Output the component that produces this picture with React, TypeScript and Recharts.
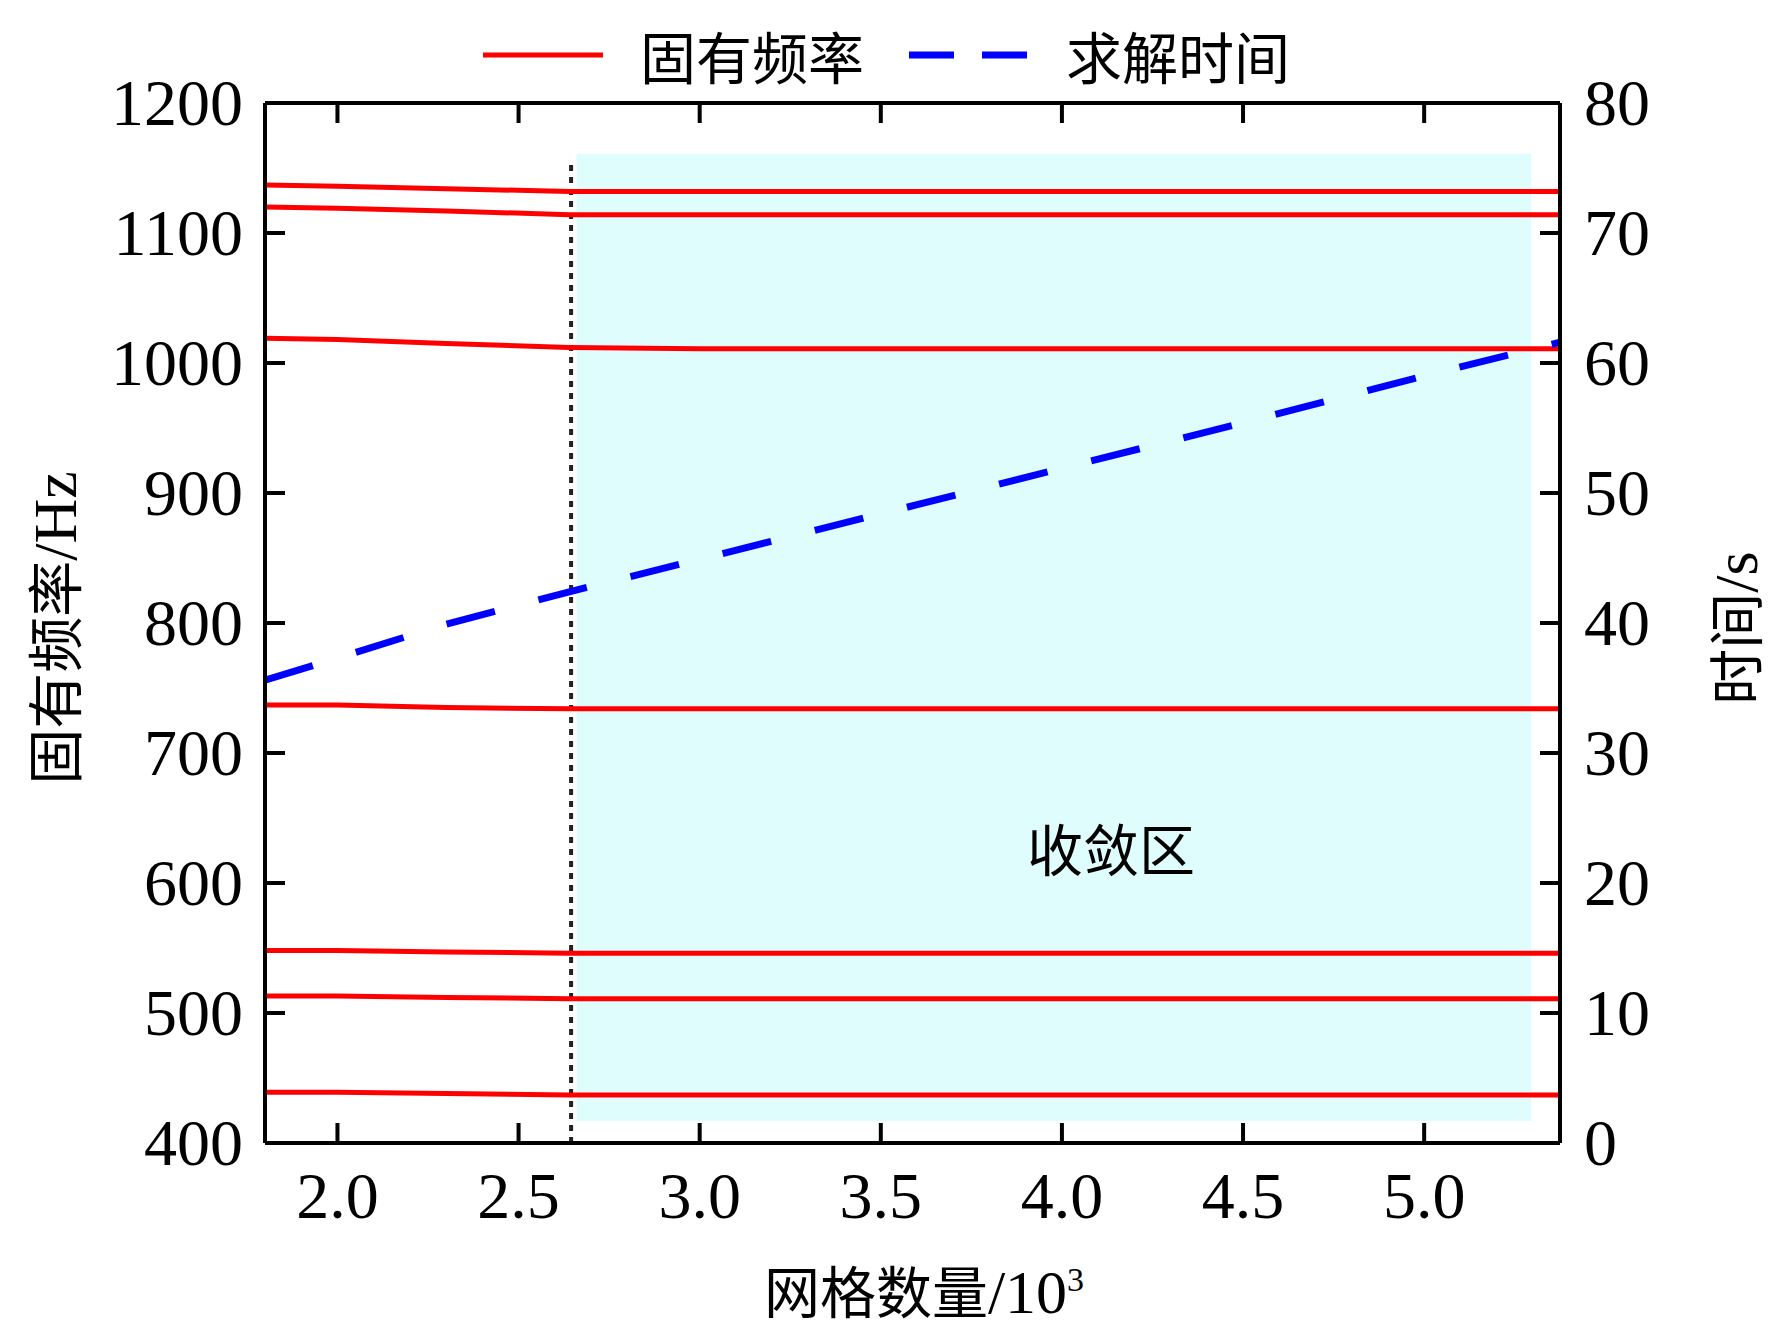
import React from 'react';
import { ComposedChart, Line, XAxis, YAxis, ReferenceArea, ReferenceLine } from 'recharts';

const meshCounts = [1.8, 2.0, 2.3, 2.64, 3.0, 3.5, 4.0, 4.5, 5.0, 5.375];
const mode1 = [439, 439, 438, 437, 437, 437, 437, 437, 437, 437];
const mode2 = [513, 513, 512, 511, 511, 511, 511, 511, 511, 511];
const mode3 = [548, 548, 547, 546, 546, 546, 546, 546, 546, 546];
const mode4 = [737, 737, 735, 734, 734, 734, 734, 734, 734, 734];
const mode5 = [1019, 1018, 1015, 1012, 1011, 1011, 1011, 1011, 1011, 1011];
const mode6 = [1120, 1119, 1117, 1114, 1114, 1114, 1114, 1114, 1114, 1114];
const mode7 = [1137, 1136, 1134, 1132, 1132, 1132, 1132, 1132, 1132, 1132];
const solveTime = [35.6, 37.3, 39.9, 42.4, 44.9, 48.4, 51.9, 55.4, 59.0, 61.6];
const xTicks = [2.0, 2.5, 3.0, 3.5, 4.0, 4.5, 5.0];
const yTicks = [400, 500, 600, 700, 800, 900, 1000, 1100, 1200];
const y2Ticks = [0, 10, 20, 30, 40, 50, 60, 70, 80];

const modes = [mode1, mode2, mode3, mode4, mode5, mode6, mode7];
const data = meshCounts.map((x, i) => {
  const row: any = { x, t: solveTime[i] };
  modes.forEach((m, k) => (row['m' + k] = m[i]));
  return row;
});

const FONT = '"Liberation Serif", "Times New Roman", serif';
const CJK = '"Noto Sans CJK SC", serif';
const TL = 20;
const AX = { stroke: '#000', strokeWidth: 4 };

const XTick = (p: any) => (
  <g>
    <line x1={p.x} x2={p.x} y1={p.y} y2={p.y - TL} stroke="#000" strokeWidth={4} />
    <text x={p.x} y={p.y + 75} textAnchor="middle" fontFamily={FONT} fontSize={66}>{p.payload.value.toFixed(1)}</text>
  </g>
);
const XTopTick = (p: any) => (
  <line x1={p.x} x2={p.x} y1={p.y} y2={p.y + TL} stroke="#000" strokeWidth={4} />
);
const YTick = (p: any) => (
  <g>
    <line x1={p.x} x2={p.x + TL} y1={p.y} y2={p.y} stroke="#000" strokeWidth={4} />
    <text x={p.x - 22} y={p.y + 22} textAnchor="end" fontFamily={FONT} fontSize={66}>{p.payload.value}</text>
  </g>
);
const Y2Tick = (p: any) => (
  <g>
    <line x1={p.x} x2={p.x - TL} y1={p.y} y2={p.y} stroke="#000" strokeWidth={4} />
    <text x={p.x + 24} y={p.y + 22} textAnchor="start" fontFamily={FONT} fontSize={66}>{p.payload.value}</text>
  </g>
);

export default function App() {
  return (
    <div style={{ position: 'relative', width: 1764, height: 1333, background: '#fff' }}>
      <ComposedChart width={1764} height={1333} data={data} margin={{ top: 94, right: 8, left: 8, bottom: 8 }}>
        <XAxis dataKey="x" type="number" domain={[1.8, 5.375]} ticks={xTicks} tick={<XTick />} tickLine={false}
          tickSize={0} tickMargin={0} axisLine={AX} height={190} allowDataOverflow />
        <XAxis xAxisId="top" orientation="top" dataKey="x" type="number" domain={[1.8, 5.375]} ticks={xTicks}
          tick={<XTopTick />} tickLine={false} tickSize={0} tickMargin={0} axisLine={AX} height={1} />
        <YAxis yAxisId="l" domain={[400, 1200]} ticks={yTicks} tick={<YTick />} tickLine={false}
          tickSize={0} tickMargin={0} axisLine={AX} width={249} allowDataOverflow />
        <YAxis yAxisId="r" orientation="right" domain={[0, 80]} ticks={y2Ticks} tick={<Y2Tick />} tickLine={false}
          tickSize={0} tickMargin={0} axisLine={AX} width={204} />
        <ReferenceArea yAxisId="l" x1={2.66} x2={5.296} y1={417} y2={1161} fill="#e0fdfd" fillOpacity={1} stroke="none" />
        <ReferenceLine yAxisId="l" segment={[{ x: 2.645, y: 400 }, { x: 2.645, y: 1154 }]} stroke="#222" strokeWidth={4} strokeDasharray="6 6" />
        {modes.map((_, k) => (
          <Line key={k} yAxisId="l" dataKey={'m' + k} stroke="#ff0000" strokeWidth={5} dot={false} isAnimationActive={false} type="linear" />
        ))}
        <Line yAxisId="r" dataKey="t" stroke="#0000ff" strokeWidth={7} strokeDasharray="50 45" dot={false} isAnimationActive={false} type="linear" />
      </ComposedChart>
      <div style={{ position: 'absolute', left: 470, top: 6, display: 'flex', alignItems: 'center', fontFamily: CJK, fontSize: 56 }}>
        <svg width={130} height={20}><line x1={5} x2={125} y1={10} y2={10} stroke="#ff0000" strokeWidth={5} /></svg>
        <span style={{ marginLeft: 32, marginRight: 40 }}>固有频率</span>
        <svg width={130} height={20}><line x1={5} x2={125} y1={10} y2={10} stroke="#0000ff" strokeWidth={7} strokeDasharray="45 28" /></svg>
        <span style={{ marginLeft: 32 }}>求解时间</span>
      </div>
      <div style={{ position: 'absolute', left: 43, top: 620, transform: 'translate(-50%,-50%) rotate(-90deg)', whiteSpace: 'nowrap', fontFamily: CJK, fontSize: 56 }}>
        固有频率<span style={{ fontFamily: FONT, fontSize: 62 }}>/Hz</span>
      </div>
      <div style={{ position: 'absolute', left: 1724, top: 620, transform: 'translate(-50%,-50%) rotate(-90deg)', whiteSpace: 'nowrap', fontFamily: CJK, fontSize: 56 }}>
        时间<span style={{ fontFamily: FONT, fontSize: 62 }}>/s</span>
      </div>
      <div style={{ position: 'absolute', left: 916, top: 1280, transform: 'translate(-50%,-50%)', whiteSpace: 'nowrap', fontFamily: CJK, fontSize: 56 }}>
        网格数量<span style={{ fontFamily: FONT, fontSize: 62 }}>/10<sup style={{ fontSize: 34 }}>3</sup></span>
      </div>
      <div style={{ position: 'absolute', left: 1103, top: 838, transform: 'translate(-50%,-50%)', whiteSpace: 'nowrap', fontFamily: CJK, fontSize: 56 }}>
        收敛区
      </div>
    </div>
  );
}
